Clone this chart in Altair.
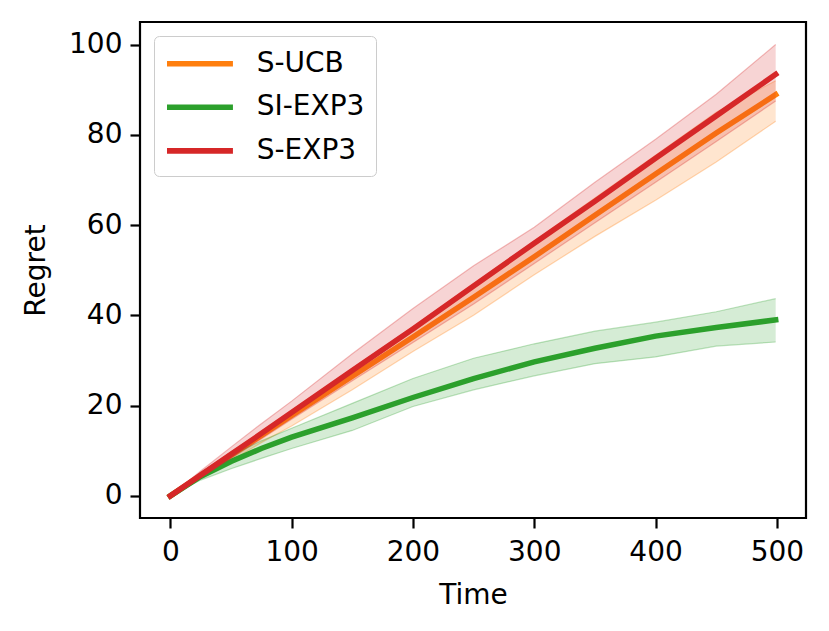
import altair as alt
import pandas as pd

# ---- data ----
T = [0, 25, 50, 75, 100, 150, 200, 250, 300, 350, 400, 450, 499]

SERIES = ["S-UCB", "SI-EXP3", "S-EXP3"]
COLORS = ["#ff7f0e", "#2ca02c", "#d62728"]

UCB_MEAN = [0, 4.5, 9.0, 13.4, 17.8, 26.5, 35.2, 44.0, 53.0, 62.2, 71.3, 80.4, 88.9]
UCB_LO = [0, 4.0, 7.8, 11.8, 15.5, 23.5, 32.0, 40.0, 49.0, 57.5, 65.5, 74.0, 83.0]
UCB_HI = [0, 4.9, 9.7, 14.3, 19.0, 28.2, 37.5, 47.0, 56.5, 66.0, 75.5, 85.0, 92.0]

SI_MEAN = [0, 4.3, 7.6, 10.5, 13.0, 17.3, 21.8, 26.0, 29.7, 32.7, 35.4, 37.3, 39.0]
SI_LO = [0, 3.5, 6.0, 8.3, 10.5, 14.5, 19.8, 23.5, 26.6, 29.3, 30.8, 33.2, 34.1]
SI_HI = [0, 5.2, 9.0, 12.2, 15.0, 20.5, 26.0, 30.5, 33.7, 36.5, 38.5, 40.8, 43.7]

EXP_MEAN = [0, 4.6, 9.2, 13.8, 18.5, 27.8, 37.0, 46.5, 56.0, 65.3, 74.8, 84.2, 93.4]
EXP_LO = [0, 4.0, 8.3, 12.6, 17.0, 25.5, 34.0, 42.5, 51.5, 60.5, 69.5, 78.5, 87.5]
EXP_HI = [0, 5.5, 10.8, 16.0, 21.0, 31.5, 41.5, 51.0, 59.5, 69.5, 79.0, 89.0, 100.0]

X_TICKS = [0, 100, 200, 300, 400, 500]
Y_TICKS = [0, 20, 40, 60, 80, 100]

rows = []
for name, mean, lo, hi in [
    ("S-UCB", UCB_MEAN, UCB_LO, UCB_HI),
    ("SI-EXP3", SI_MEAN, SI_LO, SI_HI),
    ("S-EXP3", EXP_MEAN, EXP_LO, EXP_HI),
]:
    for t, m, l, h in zip(T, mean, lo, hi):
        rows.append({"series": name, "t": t, "mean": m, "lo": l, "hi": h})
df = pd.DataFrame(rows)

xs = alt.Scale(domain=[-25, 524], nice=False, zero=False)
ys = alt.Scale(domain=[-4.9, 105], nice=False, zero=False)
cs = alt.Scale(domain=SERIES, range=COLORS)

X = alt.X("t:Q", scale=xs, axis=alt.Axis(title="Time", values=X_TICKS))


def Y(field):
    return alt.Y(field, scale=ys, axis=alt.Axis(title="Regret", values=Y_TICKS))


legend = alt.Legend(
    orient="none",
    legendX=14,
    legendY=14,
    symbolType="M-1.05,0H3.66",
    symbolSize=784,
    symbolStrokeWidth=5.6,
    labelFontSize=28,
    labelOffset=58,
    padding=10.7,
    rowPadding=12.6,
    strokeColor="#cccccc",
    fillColor="white",
    cornerRadius=5,
    labelFont="DejaVu Sans",
    labelColor="black",
)

layers = []
for name, col in zip(SERIES, COLORS):
    base = alt.Chart(df).transform_filter(alt.datum.series == name)
    band = base.mark_area(color=col, opacity=0.2).encode(
        x=X, y=Y("lo:Q"), y2="hi:Q"
    )
    edge_lo = base.mark_line(color=col, opacity=0.3, strokeWidth=1.2).encode(
        x=X, y=Y("lo:Q")
    )
    edge_hi = base.mark_line(color=col, opacity=0.3, strokeWidth=1.2).encode(
        x=X, y=Y("hi:Q")
    )
    line = base.mark_line(strokeWidth=5.5, strokeCap="square").encode(
        x=X,
        y=Y("mean:Q"),
        color=alt.Color("series:N", scale=cs, title=None, legend=legend),
    )
    layers += [band, edge_lo, edge_hi, line]

chart = (
    alt.layer(*layers)
    .properties(
        width=666,
        height=496,
        autosize=alt.AutoSizeParams(type="none"),
        padding={"left": 132, "top": 14, "right": 15, "bottom": 100},
        background="white",
    )
    .configure(font="DejaVu Sans")
    .configure_view(stroke="black", strokeWidth=2.2)
    .configure_axis(
        domain=False,
        grid=False,
        tickSize=10,
        tickWidth=2.2,
        tickColor="black",
        labelFontSize=28,
        labelColor="black",
        labelFont="DejaVu Sans",
        labelPadding=8,
        titleFontSize=28,
        titleFontWeight="normal",
        titleColor="black",
        titleFont="DejaVu Sans",
    )
    .configure_axisY(titlePadding=18)
    .configure_axisX(titlePadding=15, labelPadding=10)
)

chart.save("out.html", embed_options={"renderer": "svg", "actions": False})
